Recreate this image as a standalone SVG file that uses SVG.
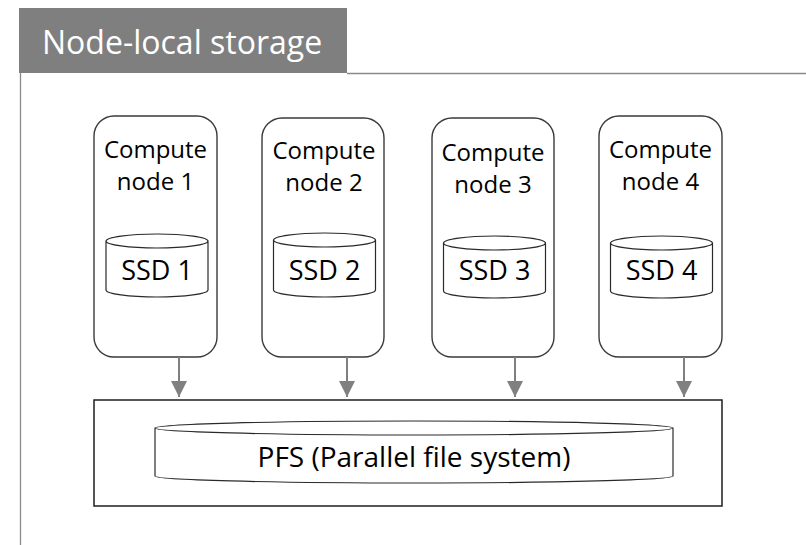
<svg xmlns="http://www.w3.org/2000/svg" width="806" height="545" viewBox="0 0 806 545">
  <style>
    .frame { stroke: #8a8a8a; stroke-width: 1.3; fill: none; }
    .node { fill: #ffffff; stroke: #3a3a3a; stroke-width: 1.4; }
    .disk { fill: #ffffff; stroke: #2a2a2a; stroke-width: 1.2; }
    .pfsbox { fill: #ffffff; stroke: #1e1e1e; stroke-width: 1.5; }
    .lbl { font-family: "Open Sans", "Liberation Sans", sans-serif; fill: #000000; text-anchor: middle; }
    .node-lbl { font-size: 24px; }
    .ssd-lbl { font-size: 27px; }
    .pfs-lbl { font-size: 28px; }
    .title { font-family: "Open Sans", "Liberation Sans", sans-serif; font-size: 32px; fill: #ffffff; }
    .edge { stroke: #808080; stroke-width: 2; fill: none; }
  </style>
  <defs>
    <marker id="arrow" viewBox="0 0 16 16" refX="16" refY="8" markerWidth="16" markerHeight="16" markerUnits="userSpaceOnUse" orient="auto">
      <path d="M0,0 L16,8 L0,16 Z" fill="#808080"/>
    </marker>
  </defs>

  <!-- title tab and frame -->
  <g id="header">
    <rect x="19" y="8" width="328" height="65" fill="#7f7f7f"/>
    <text class="title" x="42" y="54">Node-local storage</text>
    <path class="frame" d="M347,73.5 H806 M20.5,73 V545"/>
  </g>

  <!-- compute nodes with local SSDs -->
  <g id="node1">
    <rect class="node" x="94" y="116" width="123" height="241" rx="20" ry="20"/>
    <text class="lbl node-lbl" x="155.5" y="158">Compute</text>
    <text class="lbl node-lbl" x="155.5" y="190">node 1</text>
    <path class="disk" d="M106,241 V290 A51,7 0 0 0 208,290 V241 A51,7 0 0 0 106,241 A51,7 0 0 0 208,241"/>
    <text class="lbl ssd-lbl" x="157" y="280">SSD 1</text>
  </g>

  <g id="node2">
    <rect class="node" x="262" y="118" width="122" height="239" rx="20" ry="20"/>
    <text class="lbl node-lbl" x="324" y="159">Compute</text>
    <text class="lbl node-lbl" x="324" y="191">node 2</text>
    <path class="disk" d="M273.5,240 V290 A51,7 0 0 0 375.5,290 V240 A51,7 0 0 0 273.5,240 A51,7 0 0 0 375.5,240"/>
    <text class="lbl ssd-lbl" x="324.5" y="280">SSD 2</text>
  </g>

  <g id="node3">
    <rect class="node" x="432" y="118" width="122" height="239" rx="20" ry="20"/>
    <text class="lbl node-lbl" x="493" y="161">Compute</text>
    <text class="lbl node-lbl" x="493" y="193">node 3</text>
    <path class="disk" d="M443.5,243 V291 A51,7 0 0 0 545.5,291 V243 A51,7 0 0 0 443.5,243 A51,7 0 0 0 545.5,243"/>
    <text class="lbl ssd-lbl" x="494.5" y="280">SSD 3</text>
  </g>

  <g id="node4">
    <rect class="node" x="599" y="116" width="123" height="241" rx="20" ry="20"/>
    <text class="lbl node-lbl" x="660.5" y="158">Compute</text>
    <text class="lbl node-lbl" x="660.5" y="190">node 4</text>
    <path class="disk" d="M610.5,243 V291 A51,7 0 0 0 712.5,291 V243 A51,7 0 0 0 610.5,243 A51,7 0 0 0 712.5,243"/>
    <text class="lbl ssd-lbl" x="661.5" y="280">SSD 4</text>
  </g>

  <!-- shared parallel file system -->
  <g id="pfs">
    <rect class="pfsbox" x="94" y="400" width="628" height="106"/>
    <path class="disk" d="M155,428 V476 A259,7 0 0 0 673,476 V428 A259,7 0 0 0 155,428 A259,7 0 0 0 673,428"/>
    <text class="lbl pfs-lbl" x="414" y="467">PFS (Parallel file system)</text>
  </g>

  <!-- writes from each node to the PFS -->
  <g id="connectors">
    <line class="edge" x1="179" y1="357" x2="179" y2="397" marker-end="url(#arrow)"/>
    <line class="edge" x1="347" y1="357" x2="347" y2="397" marker-end="url(#arrow)"/>
    <line class="edge" x1="515" y1="357" x2="515" y2="397" marker-end="url(#arrow)"/>
    <line class="edge" x1="684" y1="357" x2="684" y2="397" marker-end="url(#arrow)"/>
  </g>
</svg>
